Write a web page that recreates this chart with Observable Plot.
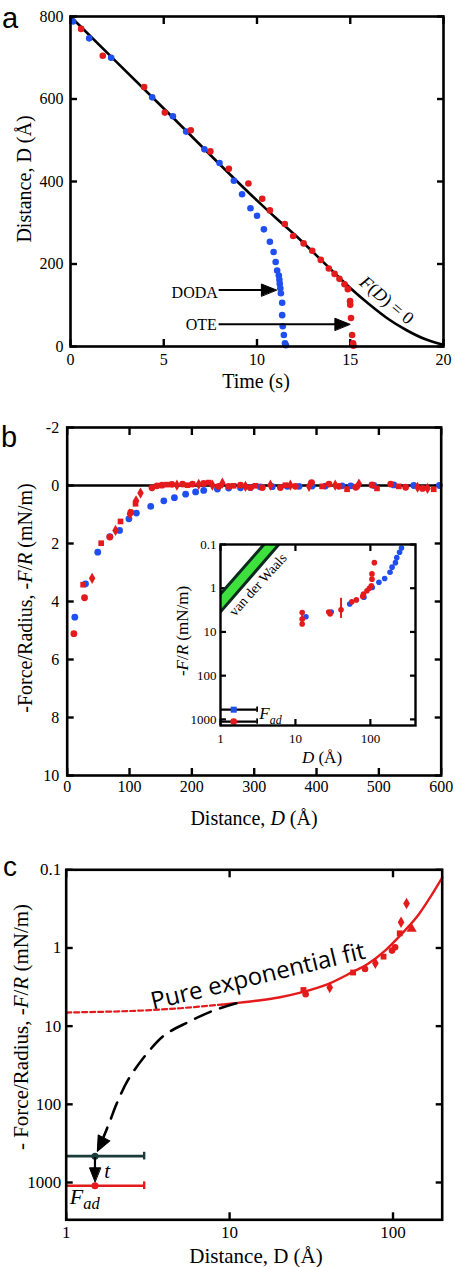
<!DOCTYPE html>
<html><head><meta charset="utf-8">
<script src="https://cdn.jsdelivr.net/npm/d3@7"></script>
<script src="https://cdn.jsdelivr.net/npm/@observablehq/plot@0.6"></script>
<style>
body{margin:0;background:#fff;}
#root{position:relative;width:455px;height:1267px;overflow:hidden;background:#fff;}
</style></head><body><div id="root"></div>
<script>
const SERIF = "'Liberation Serif','Times New Roman',serif";
const SANS = "'Liberation Sans',Arial,sans-serif";
const OPEN = "'Open Sans','Noto Sans',sans-serif";
const BLUE = "#1f4ff0", RED = "#e41a1c", TEAL = "#1b3d3a";

// ---------- Panel a data ----------
const aTicksX = [0, 5, 10, 15, 20];
const aTicksY = [0, 200, 400, 600, 800];
const dodaPts = [[0.14,788],[1.0,747],[2.18,700],[4.38,604],[5.49,558],[6.2,521],[7.18,478],[7.99,445],[8.76,402],[9.2,369],[9.65,335],[10.0,317],[10.37,284],[10.69,254],[10.89,229],[11.0,205],[11.08,184],[11.17,172],[11.2,162],[11.22,152],[11.25,141],[11.28,129],[11.35,106],[11.35,76],[11.38,49],[11.44,28],[11.5,8],[11.55,3]];
const otePts = [[0.57,770],[1.73,705],[3.95,629],[5.06,567],[6.45,524],[7.5,473],[8.49,431],[9.54,395],[10.28,358],[10.69,330],[11.49,297],[11.94,268],[12.5,250],[12.96,232],[13.42,210],[13.85,189],[14.16,176],[14.42,164],[14.69,151],[14.87,139],[14.99,110],[15.0,101],[15.04,69],[15.1,28],[15.15,8],[15.17,2]];
const fTime = [0, 5, 10, 11, 12, 13, 14, 15, 16, 17, 18, 19, 20];
const fDist = [800, 577, 354, 312, 272, 229, 185, 142, 103, 68, 40, 18, 4];
const aArrows = [{name:"DODA", D:137, t1:8.13, t2:11.04, lt:7.9, lD:129}, {name:"OTE", D:54, t1:8.13, t2:14.98, lt:7.85, lD:52}];

// ---------- Panel b data ----------
const bTicksX = [0, 100, 200, 300, 400, 500, 600];
const bTicksY = [-2, 0, 2, 4, 6, 8, 10];
const bBlue = [[12.2,4.54],[29.4,3.39],[49,2.3],[68.4,1.76],[84,1.55],[99,1.15],[111,0.95],[134,0.72],[155,0.53],[172,0.42],[190,0.3],[206,0.22],[219,0.17],[241,0.12],[259,0.09],[278,0.08],[294,0.07],[310,0.05],[329,0.04],[353,0.03],[372,0.03],[393,0.02],[414,0.02],[441,0.01],[455,0.01],[492,0],[524,-0.02],[556,0],[597,0]];
const bRedCircle = [[10.7,5.11],[27.8,3.87],[68.4,1.78],[102,0.93],[136,0.08],[144,0.01],[152,-0.01],[168,-0.04],[185,-0.05],[201,-0.05],[219,-0.07],[243,0.03],[259,0.03],[278,-0.01],[294,0.07],[313,0.07],[342,0.07],[366,0.03],[392,-0.1],[420,-0.05],[436,0.03],[463,0.06],[489,-0.02],[519,-0.05],[543,0.06],[570,0.1]];
const bRedSquare = [[25.6,3.42],[54.5,1.99],[85.5,1.24],[109.6,0.63],[160,-0.03],[193,-0.01],[227,-0.1],[267,0.01],[302,0.01],[350,-0.01],[409,0.03],[449,0.13],[497,0.1],[532,0.03],[588,0.13]];
const bRedDiamond = [[40,3.2],[77.5,1.55],[100.5,0.98],[110.5,0.53],[117.6,0.26],[176,-0.01],[211,-0.04],[233,-0.01],[249,-0.08],[286,0.03],[326,-0.01],[358,-0.01],[388,0.03],[430,-0.01],[468,-0.05],[562,0.06],[578,0.1]];

// ---------- Inset data ----------
const inTicksX = [1, 10, 100];
const inTicksY = [0.1, 1, 10, 100, 1000];
const inBlue = [[13.8,4.5],[30,3.5],[53,2.3],[82,1.6],[106,0.96],[130,0.73],[155,0.6],[183,0.43],[195,0.33],[216,0.26],[225,0.2],[245,0.15],[260,0.12]];
const inRed = [[12.3,3.6],[12.3,5.1],[12.3,6.6],[27.8,3.5],[29,3.9],[40.6,3.1],[56.5,2.05],[65,1.85],[79,1.54],[81,1.36],[90,1.14],[97,1.0],[103,0.88],[105,0.62],[105,0.47],[113,0.26]];
const inErr = [[12.3,3.3,6.9],[40.6,1.7,4.9]];
const vdwD = [1, 3.8, 6.0];
const vdwUpper = [1.36, 0.1, 0.1];
const vdwLower = [3.47, 0.247, 0.1];
const inFad = [{F:600, c:BLUE}, {F:1120, c:RED}];
const fadD = [1, 3.08];

// ---------- Panel c data ----------
const cTicksX = [1, 10, 100];
const cTicksY = [0.1, 1, 10, 100, 1000];
const cSquare = [[28.3,3.45],[57,2.06],[87.5,1.29],[110,0.65]];
const cCircle = [[29.2,3.9],[67.4,1.86],[98.6,1.08],[103,0.98]];
const cDiamond = [[41,3.2],[78,1.57],[112,0.47],[121,0.27]];
const cTriangle = [[130,0.57]];
const fitDashD = [1, 2, 3, 5, 9];
const fitDashY = [6.7, 6.5, 6.3, 5.9, 5.3];
const fitD = [9, 10.7, 15, 20, 27.5, 40, 56, 70, 89.5, 113, 144, 170, 200];
const fitY = [5.3, 5.1, 4.7, 4.3, 3.7, 2.9, 2.05, 1.6, 1.08, 0.66, 0.37, 0.22, 0.126];
const expD = [11, 8, 5.5, 4, 3.2, 2.4, 2.05, 1.85, 1.66];
const expY = [5.1, 6.3, 9, 13, 21, 48, 95, 165, 290];
const cFad = [{F:460, c:TEAL}, {F:1100, c:RED}];
const cFadD = [1, 3];

// ---------- helpers ----------
const root = document.getElementById("root");
const fmt = d => String(d);
function frameAxes(xt, yt, {len=7, sw=2.4, padX=6, padY=6} = {}) {
  return [
    Plot.axisX(xt, {anchor:"bottom", tickSize:0, tickPadding:padX, tickFormat:fmt, label:null}),
    Plot.axisY(yt, {anchor:"left", tickSize:0, tickPadding:padY, tickFormat:fmt, label:null}),
    Plot.axisX(xt, {anchor:"bottom", tickSize:len, dy:-len, fill:"none", stroke:"black", strokeWidth:sw, label:null}),
    Plot.axisX(xt, {anchor:"top", tickSize:len, dy:len, fill:"none", stroke:"black", strokeWidth:sw, label:null}),
    Plot.axisY(yt, {anchor:"left", tickSize:len, dx:len, fill:"none", stroke:"black", strokeWidth:sw, label:null}),
    Plot.axisY(yt, {anchor:"right", tickSize:len, dx:-len, fill:"none", stroke:"black", strokeWidth:sw, label:null})
  ];
}
const tri = {draw(ctx, l, r) { ctx.moveTo(0, 0); ctx.lineTo(-r, l); ctx.lineTo(r, l); ctx.closePath(); }};
function put(svg, left, top) {
  svg.style.position = "absolute"; svg.style.left = left + "px"; svg.style.top = top + "px";
  root.appendChild(svg);
}
function lab(html, x, y, {size=20, rot=0, family=SERIF, ax=0.5, ay=0.5} = {}) {
  const d = document.createElement("div");
  d.innerHTML = html;
  d.style.cssText = `position:absolute;left:${x}px;top:${y}px;font-family:${family};font-size:${size}px;line-height:1;white-space:nowrap;color:#000;transform-origin:${ax*100}% ${ay*100}%;transform:translate(${-ax*100}%,${-ay*100}%) rotate(${rot}deg);`;
  root.appendChild(d);
}
const baseStyle = (fs) => ({fontFamily: SERIF, fontSize: fs, background: "transparent", color: "black", overflow: "visible"});

// ---------- Panel a ----------
const A_TOP = 0;
const plotA = Plot.plot({
  width: 455, height: 372, marginLeft: 70, marginRight: 12, marginTop: 16, marginBottom: 26,
  x: {domain: [0, 20]}, y: {domain: [0, 800]},
  style: baseStyle("16px"),
  marks: [
    ...frameAxes(aTicksX, aTicksY, {padX: 7, padY: 7}),
    Plot.line(fTime, {x: d => d, y: (d, i) => fDist[i], stroke: "black", strokeWidth: 2.6, curve: "monotone-x"}),
    Plot.dot(dodaPts, {x: d => d[0], y: d => d[1], r: 3.3, fill: BLUE}),
    Plot.dot(otePts, {x: d => d[0], y: d => d[1], r: 3.3, fill: RED}),
    Plot.ruleY(aArrows, {y: "D", x1: "t1", x2: "t2", stroke: "black", strokeWidth: 2.2, dx: -3}),
    Plot.vector(aArrows, {x: "t2", y: "D", rotate: 90, length: 15, r: 6, anchor: "start", shape: tri, fill: "black", stroke: "black", strokeWidth: 1}),
    Plot.text(aArrows, {x: "lt", y: "lD", text: "name", textAnchor: "end", fontSize: 16}),
    Plot.frame({stroke: "black", strokeWidth: 2.6})
  ]
});
put(plotA, 0, A_TOP);
{
  const sx = plotA.scale("x"), sy = plotA.scale("y");
  lab("<i>F</i>(<i>D</i>) = 0", sx.apply(16.98), A_TOP + sy.apply(111), {size: 18, rot: 40});
  lab("Distance, D (Å)", 24, 179, {size: 20, rot: -90});
  lab("Time (s)", 256, 381, {size: 20});
  lab("a", 10, 18, {size: 29, family: SANS});
}

// ---------- Panel b ----------
const B_TOP = 395;
const plotB = Plot.plot({
  width: 455, height: 405, marginLeft: 66.7, marginRight: 14.3, marginTop: 32, marginBottom: 25,
  x: {domain: [0, 600]}, y: {domain: [10, -2]},
  style: baseStyle("16px"),
  marks: [
    ...frameAxes(bTicksX, bTicksY, {padX: 5, padY: 8}),
    Plot.ruleY([0], {stroke: "black", strokeWidth: 2.4}),
    Plot.dot(bBlue, {x: d => d[0], y: d => d[1], r: 3.4, fill: BLUE}),
    Plot.dot(bRedCircle, {x: d => d[0], y: d => d[1], r: 3.4, fill: RED}),
    Plot.dot(bRedSquare, {x: d => d[0], y: d => d[1], r: 3.2, symbol: "square", fill: RED}),
    Plot.dot(bRedDiamond, {x: d => d[0], y: d => d[1], r: 3.4, symbol: "diamond", fill: RED}),
    Plot.frame({stroke: "black", strokeWidth: 2.6})
  ]
});
put(plotB, 0, B_TOP);
lab("-Force/Radius, -<i>F</i>/<i>R</i> (mN/m)", 25, 598, {size: 20, rot: -90});
lab("Distance, <i>D</i> (Å)", 254, 818, {size: 20});
lab("b", 9, 437, {size: 29, family: SANS});

// ---------- Inset ----------
const IN_LEFT = 160, IN_TOP = 530;
const vdwRows = vdwD.map((D, i) => ({D, hi: vdwUpper[i], lo: vdwLower[i]}));
const plotIn = Plot.plot({
  width: 265, height: 230, marginLeft: 60, marginRight: 10, marginTop: 14, marginBottom: 35,
  x: {type: "log", domain: [1, 400]}, y: {type: "log", domain: [1380, 0.1]},
  style: baseStyle("13px"),
  marks: [
    ...frameAxes(inTicksX, inTicksY, {len: 6, sw: 2.2, padX: 8, padY: 4}),
    Plot.areaY(vdwRows, {x: "D", y1: "hi", y2: "lo", fill: "#3ee03e", clip: true}),
    Plot.line(vdwRows.slice(0, 2), {x: "D", y: "hi", stroke: "#0c2b1c", strokeWidth: 3, clip: true}),
    Plot.line([vdwRows[0], vdwRows[2]], {x: "D", y: "lo", stroke: "#0c2b1c", strokeWidth: 3, clip: true}),
    Plot.text(["van der Waals"], {x: 3.16, y: 0.83, text: d => d, rotate: -48, fontSize: 14}),
    Plot.ruleX(inErr, {x: d => d[0], y1: d => d[1], y2: d => d[2], stroke: RED, strokeWidth: 2}),
    Plot.dot(inBlue, {x: d => d[0], y: d => d[1], r: 2.8, fill: BLUE}),
    Plot.dot(inRed, {x: d => d[0], y: d => d[1], r: 2.8, fill: RED}),
    Plot.ruleY(inFad, {y: "F", x1: fadD[0], x2: fadD[1], stroke: "black", strokeWidth: 2.2}),
    Plot.ruleX(inFad, {x: fadD[1], y1: d => d.F / 1.15, y2: d => d.F * 1.15, stroke: "black", strokeWidth: 1.8}),
    Plot.dot(inFad, {x: 1.5, y: "F", r: 3.4, fill: "c", symbol: (d, i) => i ? "circle" : "square"}),
    Plot.frame({stroke: "black", strokeWidth: 2.4})
  ]
});
put(plotIn, IN_LEFT, IN_TOP);
{
  const sx = plotIn.scale("x"), sy = plotIn.scale("y");
  lab("<i>F</i><sub style='font-size:70%'><i>ad</i></sub>", IN_LEFT + sx.apply(3.35), IN_TOP + sy.apply(860), {size: 17, ax: 0});
  lab("-<i>F</i>/<i>R</i> (mN/m)", 182, 631, {size: 17, rot: -90});
  lab("<i>D</i> (Å)", 322, 757, {size: 17});
}

// ---------- Panel c ----------
const C_TOP = 840;
const fitDash = fitDashD.map((D, i) => ({D, y: fitDashY[i]}));
const fit = fitD.map((D, i) => ({D, y: fitY[i]}));
const expRows = expD.map((D, i) => ({D, y: expY[i]}));
const plotC = Plot.plot({
  width: 455, height: 427, marginLeft: 65.7, marginRight: 13.3, marginTop: 29.3, marginBottom: 47.7,
  x: {type: "log", domain: [1, 200]}, y: {type: "log", domain: [3000, 0.1]},
  style: baseStyle("17px"),
  marks: [
    ...frameAxes(cTicksX, cTicksY, {padX: 6, padY: 5}),
    Plot.line(fitDash, {x: "D", y: "y", stroke: RED, strokeWidth: 2.2, strokeDasharray: "5,3"}),
    Plot.line(fit, {x: "D", y: "y", stroke: RED, strokeWidth: 2.4, curve: "monotone-x"}),
    Plot.line(expRows, {x: "D", y: "y", stroke: "black", strokeWidth: 2.6, strokeDasharray: "17,10", curve: "catmull-rom"}),
    Plot.vector([{D: 1.55, y: 400}], {x: "D", y: "y", rotate: 206.6, length: 15, r: 6.5, anchor: "start", shape: tri, fill: "black", stroke: "black", strokeWidth: 1}),
    Plot.dot(cSquare, {x: d => d[0], y: d => d[1], r: 3.3, symbol: "square", fill: RED}),
    Plot.dot(cCircle, {x: d => d[0], y: d => d[1], r: 3.3, fill: RED}),
    Plot.dot(cDiamond, {x: d => d[0], y: d => d[1], r: 3.5, symbol: "diamond", fill: RED}),
    Plot.dot(cTriangle, {x: d => d[0], y: d => d[1], r: 3.8, symbol: "triangle", fill: RED}),
    Plot.ruleY(cFad, {y: "F", x1: cFadD[0], x2: cFadD[1], stroke: "c", strokeWidth: 2.6}),
    Plot.ruleX(cFad, {x: cFadD[1], y1: d => d.F / 1.12, y2: d => d.F * 1.12, stroke: "c", strokeWidth: 2.4}),
    Plot.dot(cFad, {x: 1.5, y: "F", r: 3.5, fill: "c"}),
    Plot.ruleX([1.5], {y1: 480, y2: 860, stroke: "black", strokeWidth: 2.2}),
    Plot.vector([{D: 1.5, y: 980}], {x: "D", y: "y", rotate: 0, length: 14, r: 5.5, anchor: "start", shape: {draw(ctx, l, r) { ctx.moveTo(0, 0); ctx.lineTo(-r, -l); ctx.lineTo(r, -l); ctx.closePath(); }}, fill: "black", stroke: "black", strokeWidth: 1}),
    Plot.text(["Pure exponential fit"], {x: 14.9, y: 2.31, text: d => d, rotate: -13.5, fontSize: 24, fontFamily: OPEN}),
    Plot.text(["t"], {x: 1.78, y: 716, text: d => d, fontSize: 21, fontStyle: "italic"}),
    Plot.frame({stroke: "black", strokeWidth: 2.6})
  ]
});
put(plotC, 0, C_TOP);
{
  const sx = plotC.scale("x"), sy = plotC.scale("y");
  lab("<i>F</i><sub style='font-size:75%'><i>ad</i></sub>", sx.apply(1.06), C_TOP + sy.apply(1640), {size: 22, ax: 0});
  lab("- Force/Radius, -<i>F</i>/<i>R</i> (mN/m)", 21, 1027, {size: 21, rot: -90});
  lab("Distance, D (Å)", 256, 1256, {size: 21});
  lab("c", 10, 867, {size: 28, family: SANS});
}
</script></body></html>
